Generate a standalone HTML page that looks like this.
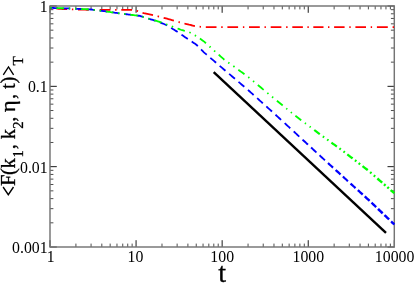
<!DOCTYPE html>
<html><head><meta charset="utf-8"><style>
html,body{margin:0;padding:0;background:#fff;}
svg{display:block;font-family:"Liberation Serif",serif;will-change:transform;}
text{filter:grayscale(1);}
</style></head><body>
<svg width="415" height="283" viewBox="0 0 415 283">
<rect width="415" height="283" fill="#fff"/>
<g fill="none" stroke="#000">
<path d="M50.00 62.15h3.4 M394.30 62.15h-3.4 M50.00 48.00h3.4 M394.30 48.00h-3.4 M50.00 37.97h3.4 M394.30 37.97h-3.4 M50.00 30.18h3.4 M394.30 30.18h-3.4 M50.00 23.82h3.4 M394.30 23.82h-3.4 M50.00 18.44h3.4 M394.30 18.44h-3.4 M50.00 13.79h3.4 M394.30 13.79h-3.4 M50.00 9.68h3.4 M394.30 9.68h-3.4 M50.00 142.48h3.4 M394.30 142.48h-3.4 M50.00 128.34h3.4 M394.30 128.34h-3.4 M50.00 118.30h3.4 M394.30 118.30h-3.4 M50.00 110.52h3.4 M394.30 110.52h-3.4 M50.00 104.16h3.4 M394.30 104.16h-3.4 M50.00 98.78h3.4 M394.30 98.78h-3.4 M50.00 94.12h3.4 M394.30 94.12h-3.4 M50.00 90.01h3.4 M394.30 90.01h-3.4 M50.00 222.82h3.4 M394.30 222.82h-3.4 M50.00 208.67h3.4 M394.30 208.67h-3.4 M50.00 198.63h3.4 M394.30 198.63h-3.4 M50.00 190.85h3.4 M394.30 190.85h-3.4 M50.00 184.49h3.4 M394.30 184.49h-3.4 M50.00 179.11h3.4 M394.30 179.11h-3.4 M50.00 174.45h3.4 M394.30 174.45h-3.4 M50.00 170.34h3.4 M394.30 170.34h-3.4 M75.91 247.00v-3.4 M75.91 6.00v3.4 M91.07 247.00v-3.4 M91.07 6.00v3.4 M101.82 247.00v-3.4 M101.82 6.00v3.4 M110.16 247.00v-3.4 M110.16 6.00v3.4 M116.98 247.00v-3.4 M116.98 6.00v3.4 M122.74 247.00v-3.4 M122.74 6.00v3.4 M127.73 247.00v-3.4 M127.73 6.00v3.4 M132.14 247.00v-3.4 M132.14 6.00v3.4 M161.99 247.00v-3.4 M161.99 6.00v3.4 M177.14 247.00v-3.4 M177.14 6.00v3.4 M187.90 247.00v-3.4 M187.90 6.00v3.4 M196.24 247.00v-3.4 M196.24 6.00v3.4 M203.05 247.00v-3.4 M203.05 6.00v3.4 M208.82 247.00v-3.4 M208.82 6.00v3.4 M213.81 247.00v-3.4 M213.81 6.00v3.4 M218.21 247.00v-3.4 M218.21 6.00v3.4 M248.06 247.00v-3.4 M248.06 6.00v3.4 M263.22 247.00v-3.4 M263.22 6.00v3.4 M273.97 247.00v-3.4 M273.97 6.00v3.4 M282.31 247.00v-3.4 M282.31 6.00v3.4 M289.13 247.00v-3.4 M289.13 6.00v3.4 M294.89 247.00v-3.4 M294.89 6.00v3.4 M299.88 247.00v-3.4 M299.88 6.00v3.4 M304.29 247.00v-3.4 M304.29 6.00v3.4 M334.14 247.00v-3.4 M334.14 6.00v3.4 M349.29 247.00v-3.4 M349.29 6.00v3.4 M360.05 247.00v-3.4 M360.05 6.00v3.4 M368.39 247.00v-3.4 M368.39 6.00v3.4 M375.20 247.00v-3.4 M375.20 6.00v3.4 M380.97 247.00v-3.4 M380.97 6.00v3.4 M385.96 247.00v-3.4 M385.96 6.00v3.4 M390.36 247.00v-3.4 M390.36 6.00v3.4" stroke-width="0.7"/>
<path d="M50.00 6.00h6.8 M394.30 6.00h-6.8 M50.00 86.33h6.8 M394.30 86.33h-6.8 M50.00 166.67h6.8 M394.30 166.67h-6.8 M50.00 247.00h6.8 M394.30 247.00h-6.8 M50.00 247.00v-6.8 M50.00 6.00v6.8 M136.07 247.00v-6.8 M136.07 6.00v6.8 M222.15 247.00v-6.8 M222.15 6.00v6.8 M308.23 247.00v-6.8 M308.23 6.00v6.8 M394.30 247.00v-6.8 M394.30 6.00v6.8" stroke-width="0.9"/>
<rect x="50.0" y="6.0" width="344.3" height="241.0" stroke-width="1.45" stroke="#747474"/>
</g>
<g fill="none" stroke-linecap="butt" stroke-linejoin="round">
<path d="M50.20 8.20 L51.40 8.28 L51.70 8.30 M56.40 8.62 L57.60 8.70 L58.80 8.78 L60.00 8.86 L61.20 8.95 L62.40 9.02 L63.60 9.06 L64.80 9.11 L66.00 9.15 L67.10 9.20 M71.90 9.38 L73.10 9.43 L73.30 9.43 M78.00 9.56 L79.20 9.58 L80.40 9.61 L81.60 9.63 L82.80 9.66 L84.00 9.68 L85.20 9.70 L86.40 9.73 L87.60 9.75 L88.80 9.78 M93.50 9.82 L94.70 9.82 L94.90 9.82 M99.70 9.85 L100.90 9.85 L102.10 9.86 L103.30 9.87 L104.50 9.87 L105.70 9.88 L106.90 9.88 L108.10 9.89 L109.30 9.90 L110.40 9.90 M115.10 9.90 L116.30 9.90 L116.60 9.90 M121.30 9.90 L122.50 9.90 L123.70 9.90 L124.90 9.90 L126.10 9.90 L127.30 9.90 L128.50 9.90 L129.70 9.90 L130.90 9.90 L132.00 9.90 M136.70 10.84 L137.86 11.19 L138.05 11.25 M142.52 12.77 L143.68 13.07 L144.86 13.33 L146.04 13.58 L147.21 13.84 L148.39 14.10 L149.57 14.35 L150.74 14.61 L151.92 14.87 L153.00 15.10 M157.61 16.21 L158.78 16.51 L159.07 16.58 M163.64 17.80 L164.81 18.11 L165.98 18.42 L167.15 18.73 L168.32 19.04 L169.48 19.37 L170.63 19.70 L171.79 20.03 L172.94 20.36 L173.90 20.64 M178.52 21.96 L179.68 22.28 L179.87 22.33 M184.44 23.50 L185.60 23.80 L186.77 24.10 L187.93 24.40 L189.10 24.70 L190.28 24.97 L191.47 25.25 L192.65 25.52 L193.83 25.80 L194.92 26.05 M199.60 26.72 L200.80 26.86 L201.00 26.88 M205.80 27.05 L207.00 27.06 L208.20 27.08 L209.40 27.09 L210.60 27.10 L211.80 27.10 L213.00 27.10 L214.20 27.10 L215.40 27.10 L216.50 27.10 M221.20 27.10 L222.40 27.10 L222.70 27.10 M227.40 27.10 L228.60 27.10 L229.80 27.10 L231.00 27.10 L232.20 27.10 L233.40 27.10 L234.60 27.10 L235.80 27.10 L237.00 27.10 L238.10 27.10 M242.90 27.10 L244.10 27.10 L244.30 27.10 M249.00 27.10 L250.20 27.10 L251.40 27.10 L252.60 27.10 L253.80 27.10 L255.00 27.10 L256.20 27.10 L257.40 27.10 L258.60 27.10 L259.80 27.10 M264.50 27.10 L265.70 27.10 L265.90 27.10 M270.70 27.10 L271.90 27.10 L273.10 27.10 L274.30 27.10 L275.50 27.10 L276.70 27.10 L277.90 27.10 L279.10 27.10 L280.30 27.10 L281.40 27.10 M286.10 27.10 L287.30 27.10 L287.60 27.10 M292.30 27.10 L293.50 27.10 L294.70 27.10 L295.90 27.10 L297.10 27.10 L298.30 27.10 L299.50 27.10 L300.70 27.10 L301.90 27.10 L302.90 27.10 M328.00 27.10 L329.20 27.10 L329.40 27.10 M334.10 27.10 L335.30 27.10 L336.50 27.10 L337.70 27.10 L338.90 27.10 L340.10 27.10 L341.30 27.10 L342.50 27.10 L343.70 27.10 L344.60 27.10 M349.30 27.10 L350.50 27.10 L350.70 27.10 M355.40 27.10 L356.60 27.10 L357.80 27.10 L359.00 27.10 L360.20 27.10 L361.40 27.10 L362.60 27.10 L363.80 27.10 L365.00 27.10 L366.00 27.10 M370.70 27.10 L371.90 27.10 L372.10 27.10 M376.90 27.10 L378.10 27.10 L379.30 27.10 L380.50 27.10 L381.70 27.10 L382.90 27.10 L384.10 27.10 L385.30 27.10 L386.50 27.10 L387.70 27.10 L387.80 27.10 M392.60 27.10 L393.80 27.10 L394.00 27.10" stroke="#ff0000" stroke-width="1.8"/>
<path d="M307.40 27.10 L308.60 27.10 L308.80 27.10 M313.30 27.10 L314.50 27.10 L315.70 27.10 L316.90 27.10 L318.10 27.10 L319.30 27.10 L320.50 27.10 L321.70 27.10 L322.90 27.10 L323.50 27.10" stroke="#ff0000" stroke-width="1.9"/>

<path d="M50.20 7.90 L51.40 7.94 L52.60 7.97 L53.80 8.01 L55.00 8.05 L56.20 8.08 L57.40 8.12 L57.90 8.13 M62.60 8.28 L63.80 8.31 L65.00 8.35 L66.20 8.38 L67.40 8.42 L68.60 8.46 L69.80 8.49 L70.20 8.51 M75.00 8.72 L76.20 8.78 L77.40 8.83 L78.60 8.89 L79.80 8.94 L81.00 9.00 L82.20 9.05 L82.60 9.07 M87.30 9.28 L88.50 9.33 L89.70 9.39 L90.89 9.51 L92.09 9.66 L93.28 9.81 L94.47 9.95 L94.97 10.02 M99.63 10.60 L100.83 10.74 L102.02 10.89 L103.21 11.04 L104.40 11.19 L105.60 11.37 L106.80 11.55 L107.20 11.61 M111.90 12.33 L113.09 12.48 L114.28 12.64 L115.47 12.80 L116.67 12.96 L117.86 13.11 L119.05 13.27 L119.45 13.32 M124.11 13.94 L125.31 14.10 L126.50 14.25 L127.69 14.39 L128.88 14.54 L130.07 14.69 L131.26 14.83 L131.66 14.88 M136.43 15.46 L137.62 15.61 L138.81 15.75 L140.00 15.90 L141.15 16.27 L142.29 16.64 L143.44 17.01 L143.82 17.13 M148.32 18.58 L149.47 18.93 L150.62 19.28 L151.77 19.62 L152.92 19.97 L154.07 20.32 L155.22 20.66 L155.60 20.78 M160.05 22.37 L161.16 22.84 L162.28 23.32 L163.40 23.79 L164.51 24.27 L165.63 24.74 L166.69 25.32 L167.04 25.53 M171.09 27.98 L172.13 28.60 L173.16 29.23 L174.20 29.85 L175.24 30.48 L176.27 31.11 L177.26 31.79 L177.59 32.02 M181.48 34.68 L182.47 35.35 L183.47 36.03 L184.46 36.71 L185.45 37.39 L186.45 38.07 L187.45 38.74 L187.79 38.96 M191.72 41.58 L192.72 42.25 L193.72 42.92 L194.73 43.59 L195.73 44.25 L196.68 44.99 L197.53 45.84 L197.81 46.13 M201.11 49.48 L201.96 50.33 L202.80 51.19 L203.65 52.04 L204.53 52.86 L205.45 53.64 L206.36 54.42 L206.74 54.75 M210.32 57.81 L211.23 58.59 L212.15 59.37 L213.06 60.15 L213.97 60.93 L214.89 61.72 L215.80 62.50 L216.11 62.76 M219.68 65.82 L220.60 66.60 L221.51 67.38 L222.43 68.17 L223.34 68.95 L224.25 69.73 L225.17 70.51 L225.47 70.77 M229.13 73.88 L230.05 74.66 L230.96 75.44 L231.88 76.22 L232.79 77.00 L233.71 77.77 L234.62 78.55 L234.93 78.81 M238.51 81.86 L239.43 82.64 L240.34 83.42 L241.26 84.20 L242.17 84.97 L243.09 85.75 L244.01 86.53 L244.31 86.79 M247.97 89.91 L248.87 90.70 L249.76 91.51 L250.65 92.31 L251.55 93.11 L252.44 93.92 L253.33 94.72 L253.63 94.99 M257.13 98.14 L258.02 98.94 L258.91 99.74 L259.80 100.55 L260.70 101.35 L261.59 102.16 L262.48 102.96 L262.85 103.29 M266.35 106.44 L267.24 107.25 L268.13 108.05 L269.03 108.85 L269.92 109.66 L270.81 110.46 L271.70 111.26 L272.00 111.53 M275.48 114.72 L276.36 115.53 L277.25 116.34 L278.14 117.16 L279.02 117.97 L279.91 118.78 L280.80 119.60 L281.09 119.87 M284.64 123.12 L285.53 123.94 L286.41 124.75 L287.30 125.56 L288.19 126.38 L289.07 127.19 L289.96 128.00 L290.26 128.27 M293.73 131.46 L294.61 132.28 L295.50 133.09 L296.38 133.91 L297.26 134.72 L298.14 135.54 L299.02 136.36 L299.32 136.63" stroke="#0000ff" stroke-width="1.8"/>
<path d="M302.55 139.62 L303.43 140.43 L304.31 141.25 L305.19 142.07 L306.08 142.88 L306.96 143.70 L307.84 144.51 L307.91 144.58 M311.07 147.51 L311.95 148.32 L312.84 149.14 L313.72 149.95 L314.60 150.77 L315.48 151.58 L316.36 152.40 L316.44 152.47 M319.54 155.32 L320.43 156.14 L321.32 156.95 L322.21 157.77 L323.10 158.58 L323.99 159.40 L324.88 160.21 L324.95 160.28" stroke="#0000ff" stroke-width="1.9"/>
<path d="M328.00 163.07 L328.89 163.88 L329.78 164.70 L330.67 165.50 L331.57 166.31 L332.46 167.12 L333.06 167.65 M342.89 176.56 L343.78 177.38 L344.67 178.19 L345.56 179.01 L346.44 179.83 L347.33 180.65 L347.93 181.19" stroke="#0000ff" stroke-width="2.1"/>
<path d="M350.52 183.57 L351.42 184.38 L352.31 185.18 L353.21 185.99 L354.10 186.79 L355.00 187.60 L355.52 188.07" stroke="#0000ff" stroke-width="2.2"/>
<path d="M335.67 170.00 L336.57 170.81 L337.46 171.62 L338.36 172.42 L339.25 173.23 L340.15 174.04 L340.59 174.45 M357.84 190.15 L358.73 190.96 L359.63 191.76 L360.52 192.57 L361.41 193.38 L362.30 194.19 L362.67 194.53" stroke="#0000ff" stroke-width="2.3"/>
<path d="M364.74 196.41 L365.63 197.22 L366.52 198.03 L367.41 198.84 L368.30 199.65 L369.19 200.46 L369.56 200.80 M371.52 202.66 L372.39 203.50 L373.26 204.33 L374.13 205.17 L375.00 206.00 L375.87 206.83 L376.16 207.11 M384.45 215.03 L385.33 215.86 L386.20 216.69 L387.08 217.53 L387.96 218.36 L388.83 219.19 L389.12 219.47 M391.15 221.42 L392.01 222.26 L392.87 223.10 L393.73 223.94 L394.30 224.50" stroke="#0000ff" stroke-width="2.4"/>
<path d="M378.04 208.92 L378.91 209.76 L379.78 210.59 L380.66 211.42 L381.53 212.26 L382.41 213.09 L382.63 213.30" stroke="#0000ff" stroke-width="2.5"/>

<path d="M50.20 7.90 L51.40 7.94 L51.70 7.95 M56.40 8.09 L57.60 8.12 L58.80 8.16 L60.00 8.20 L61.20 8.23 L62.40 8.27 L63.60 8.31 L64.10 8.32 M68.80 8.46 L70.00 8.50 L70.20 8.51 M75.00 8.72 L76.20 8.78 L76.40 8.79 M81.10 9.00 L82.30 9.05 L83.50 9.11 L84.70 9.16 L85.90 9.22 L87.10 9.27 L88.30 9.32 L88.80 9.35 M93.48 9.83 L94.67 9.98 L94.97 10.02 M99.63 10.60 L100.83 10.74 L101.02 10.77 M105.80 11.40 L107.00 11.58 L108.20 11.77 L109.40 11.95 L110.60 12.13 L111.80 12.31 L112.99 12.47 L113.29 12.51 M117.96 13.13 L119.15 13.28 L119.45 13.32 M124.11 13.94 L125.31 14.10 L125.60 14.13 M130.27 14.71 L131.46 14.86 L132.65 15.00 L133.84 15.15 L135.04 15.29 L136.23 15.44 L137.42 15.58 L137.82 15.63 M142.39 16.67 L143.54 17.04 L143.82 17.13 M148.32 18.58 L149.47 18.92 L149.66 18.98 M154.28 20.30 L155.43 20.63 L156.59 20.96 L157.74 21.30 L158.89 21.63 L160.02 22.05 L161.15 22.46 L161.53 22.60 M165.95 24.22 L167.08 24.64 L167.36 24.74 M171.77 26.37 L172.90 26.79 L173.18 26.89 M177.59 28.52 L178.72 28.94 L179.84 29.36 L180.98 29.75 L182.13 30.10 L183.28 30.45 L184.43 30.80 L184.82 30.92 M189.33 32.29 L190.44 32.75 L190.70 32.90 M194.81 35.25 L195.86 35.85 L196.04 35.95 M199.93 38.59 L200.91 39.29 L201.88 39.99 L202.86 40.69 L203.84 41.38 L204.75 42.17 L205.64 42.98 L205.94 43.25 M209.52 46.47 L210.42 47.28 L210.57 47.41 M214.07 50.57 L214.97 51.37 L215.20 51.57 M218.71 54.70 L219.61 55.50 L220.51 56.30 L221.41 57.10 L222.30 57.90 L223.20 58.70 L224.10 59.50 L224.43 59.73 M228.26 62.47 L229.23 63.17 L229.48 63.34 M233.31 66.08 L234.29 66.78 L234.53 66.95 M238.34 69.73 L239.31 70.44 L240.28 71.16 L241.25 71.87 L242.22 72.59 L243.19 73.30 L244.16 74.02 L244.48 74.26 M248.28 77.06 L249.20 77.83 L249.35 77.96 M253.05 81.03 L253.97 81.79 L254.13 81.92 M257.82 84.99 L258.75 85.75 L259.67 86.52 L260.60 87.29 L261.52 88.05 L262.44 88.82 L263.37 89.59 L263.68 89.84 M267.30 92.85 L268.22 93.61 L268.45 93.81 M272.07 96.81 L273.00 97.57 L273.16 97.70 M276.89 100.74 L277.82 101.50 L278.75 102.26 L279.69 103.02 L280.62 103.78 L281.55 104.54 L282.48 105.30 L282.64 105.43 M286.22 108.34 L287.15 109.10 L287.30 109.23 M290.80 112.08 L291.73 112.84 L291.89 112.97" stroke="#00ff00" stroke-width="1.8"/>
<path d="M295.40 115.80 L296.36 116.53 L297.32 117.25 L298.28 117.97 L299.24 118.70 L300.20 119.42 L301.16 120.15 L301.24 120.21 M304.92 122.98 L305.88 123.71 L305.96 123.77 M309.64 126.54 L310.60 127.27 L310.68 127.33" stroke="#00ff00" stroke-width="1.9"/>
<path d="M314.20 129.98 L315.16 130.71 L316.12 131.43 L317.08 132.16 L318.04 132.88 L319.01 133.59 L319.82 134.18 M322.83 136.36 L323.80 137.07 L324.12 137.30 M327.13 139.48 L328.10 140.19 L328.51 140.48" stroke="#00ff00" stroke-width="2.1"/>
<path d="M331.43 142.60 L332.40 143.31 L333.37 144.02 L334.35 144.73 L335.32 145.43 L336.30 146.14 L336.86 146.55 M339.46 148.44 L340.43 149.14 L340.84 149.44 M343.49 151.42 L344.44 152.15 L344.84 152.46" stroke="#00ff00" stroke-width="2.2"/>
<path d="M347.30 154.35 L348.25 155.08 L349.20 155.82 L350.15 156.55 L351.10 157.29 L352.06 158.02 L352.61 158.45 M354.91 160.22 L355.86 160.95 L356.34 161.32 M358.64 163.09 L359.59 163.83 L360.14 164.25 M362.52 166.09 L363.48 166.82 L364.43 167.55 L365.38 168.29 L366.33 169.02 L367.28 169.76 L367.75 170.13 M370.10 172.17 L371.00 172.96 L371.46 173.35 M373.80 175.39 L374.71 176.18 L375.09 176.51" stroke="#00ff00" stroke-width="2.3"/>
<path d="M377.36 178.48 L378.26 179.27 L379.17 180.06 L380.08 180.84 L380.99 181.63 L381.90 182.42 L382.20 182.68 M384.01 184.26 L384.92 185.05 L385.53 185.58 M387.34 187.15 L388.25 187.94 L388.85 188.47 M390.67 190.05 L391.58 190.83 L392.48 191.62 L393.39 192.41 L394.30 193.20" stroke="#00ff00" stroke-width="2.4"/>

<polyline points="213.7,72.2 386.0,232.8" stroke="#000" stroke-width="2.4"/>
</g>
<g font-size="16px" fill="#000">
<text x="47.65" y="11.8" text-anchor="end" font-size="15.8px">1</text>
<text x="47.65" y="92.1" text-anchor="end" font-size="15.8px">0.1</text>
<text x="47.65" y="172.5" text-anchor="end" font-size="15.8px">0.01</text>
<text x="47.65" y="252.8" text-anchor="end" font-size="15.8px">0.001</text>
<text x="50.8" y="261.6" text-anchor="middle" font-size="15.8px">1</text>
<text x="135.5" y="261.6" text-anchor="middle" font-size="15.8px">10</text>
<text x="222.2" y="261.6" text-anchor="middle" font-size="15.8px">100</text>
<text x="308.3" y="261.6" text-anchor="middle" font-size="15.8px">1000</text>
<text x="394.6" y="261.6" text-anchor="middle" font-size="15.8px">10000</text>
</g>
<text x="222.1" y="281.5" font-size="28px" text-anchor="middle" stroke="#000" stroke-width="0.35">t</text>
<g transform="translate(15.4 126.5) rotate(-90)" font-size="20.65px" stroke="#000" stroke-width="0.3"><text x="-59.43" y="0.0">F</text><text x="-48.60" y="0.0">(</text><text x="-41.92" y="0.0">k</text><text x="-30.98" y="7.6" font-size="14.6px">1</text><text x="-22.68" y="0.0">,</text><text x="-12.77" y="0.0">k</text><text x="-2.29" y="7.6" font-size="14.6px">2</text><text x="4.76" y="0.0">,</text><text transform="translate(14.37 0) scale(1.1 1)">η</text><text x="27.47" y="0.0">,</text><text x="37.53" y="0.0">t</text><text x="42.96" y="0.0">)</text><text x="60.95" y="7.6" font-size="15.3px">T</text></g>
<g fill="none" stroke="#000" stroke-width="1.35" stroke-linejoin="miter" stroke-linecap="butt"><path d="M3.1 187.0L8.3 194.7L13.5 187.0"/><path d="M3.3 74.9L8.5 66.9L13.6 74.9"/></g>
</svg>
</body></html>
